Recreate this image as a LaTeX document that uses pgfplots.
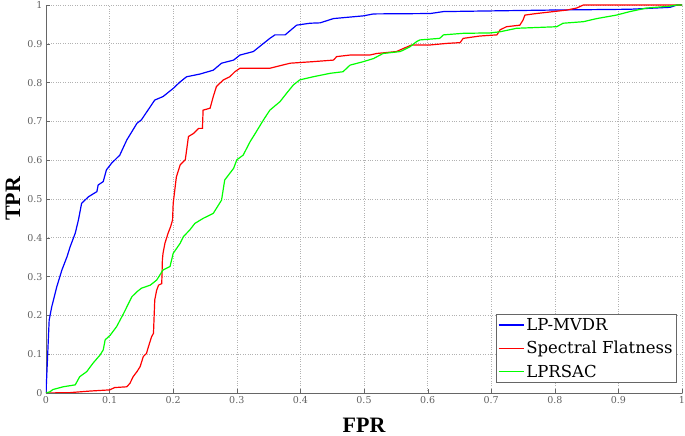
\documentclass[border=0pt]{standalone}
\usepackage{pgfplots}
\pgfplotsset{compat=1.18}
\usepackage{fontspec}
\setmainfont{DejaVu Serif}
\newfontfamily\labfont{Liberation Serif}
\begin{document}
\begin{tikzpicture}
\begin{axis}[
  name=ax,
  scale only axis, width=636pt, height=388pt,
  xmin=0, xmax=1, ymin=0, ymax=1,
  xtick={0,0.1,...,1}, ytick={0,0.1,...,1},
  xticklabels={0,0.1,0.2,0.3,0.4,0.5,0.6,0.7,0.8,0.9,1},
  yticklabels={0,0.1,0.2,0.3,0.4,0.5,0.6,0.7,0.8,0.9,1},
  axis x line*=bottom, axis y line*=left,
  axis line style={gray!80!black, line width=0.8pt, -},
  tick align=inside, major tick length=4pt,
  tick style={gray!80!black},
  tick label style={font=\fontsize{9.5}{11}\selectfont, text=gray!75!black},
  grid=major, major grid style={gray!60, dotted, line width=0.6pt},
  xlabel={\labfont\bfseries\fontsize{22}{24}\selectfont FPR},
  ylabel={\labfont\bfseries\fontsize{22}{24}\selectfont TPR},
  xlabel style={at={(0.5,0)}, anchor=center, yshift=-32pt},
  ylabel style={at={(0,0.5)}, anchor=center, yshift=33pt},
  legend style={at={(1,0)}, anchor=south east, xshift=-5pt, yshift=10pt,
    font=\fontsize{16.5}{19}\selectfont, draw=gray!80!black, line width=0.8pt,
    inner sep=2pt, row sep=5.5pt},
  legend cell align=left,
  legend image code/.code={\draw[#1, line width=1.3pt] plot coordinates {(0pt,0pt) (12pt,0pt) (25pt,0pt)};},
]
\addplot[blue, line width=1.2pt] coordinates {
(0,0) (0.005,0.188) (0.009,0.222) (0.017,0.274) (0.025,0.317) (0.033,0.351)
(0.038,0.377) (0.046,0.412) (0.051,0.446) (0.056,0.489) (0.067,0.506)
(0.080,0.519) (0.082,0.536) (0.090,0.545) (0.095,0.575) (0.103,0.592)
(0.116,0.613) (0.127,0.652) (0.143,0.695) (0.150,0.704) (0.171,0.755)
(0.184,0.764) (0.200,0.785) (0.211,0.802) (0.221,0.815) (0.242,0.822)
(0.263,0.832) (0.276,0.850) (0.295,0.858) (0.305,0.871) (0.326,0.880)
(0.342,0.901) (0.352,0.914) (0.360,0.923) (0.376,0.923) (0.394,0.948)
(0.415,0.953) (0.431,0.954) (0.452,0.965) (0.499,0.972) (0.515,0.977)
(0.604,0.978) (0.625,0.983) (0.709,0.985) (0.798,0.987) (0.918,0.989)
(0.981,0.994) (0.992,1.0) (1,1)
};
\addlegendentry{LP-MVDR}
\addplot[red, line width=1.2pt] coordinates {
(0,0) (0.038,0.001) (0.069,0.005) (0.100,0.008) (0.108,0.014) (0.127,0.016)
(0.132,0.025) (0.137,0.042) (0.143,0.055) (0.148,0.068) (0.153,0.094)
(0.158,0.102) (0.161,0.119) (0.166,0.145) (0.169,0.154) (0.170,0.197)
(0.171,0.240) (0.174,0.265) (0.177,0.278) (0.182,0.282) (0.183,0.343)
(0.184,0.360) (0.187,0.386) (0.192,0.412) (0.196,0.429) (0.199,0.446)
(0.200,0.489) (0.205,0.557) (0.211,0.588) (0.219,0.601) (0.224,0.661)
(0.232,0.669) (0.240,0.682) (0.246,0.682) (0.247,0.729) (0.258,0.734)
(0.263,0.764) (0.268,0.790) (0.279,0.807) (0.289,0.815) (0.297,0.828)
(0.305,0.837) (0.352,0.837) (0.384,0.850) (0.420,0.854) (0.452,0.858)
(0.457,0.867) (0.478,0.871) (0.509,0.871) (0.520,0.875) (0.551,0.880)
(0.562,0.888) (0.575,0.897) (0.604,0.897) (0.630,0.901) (0.651,0.903)
(0.656,0.914) (0.682,0.920) (0.709,0.923) (0.714,0.936) (0.724,0.944)
(0.745,0.948) (0.750,0.961) (0.753,0.974) (0.771,0.978) (0.798,0.983)
(0.819,0.987) (0.834,0.992) (0.845,1.0) (1,1)
};
\addlegendentry{Spectral Flatness}
\addplot[green, line width=1.2pt] coordinates {
(0,0) (0.006,0.003) (0.011,0.009) (0.027,0.016) (0.046,0.021) (0.053,0.042)
(0.064,0.055) (0.074,0.077) (0.085,0.098) (0.090,0.111) (0.093,0.137)
(0.101,0.149) (0.111,0.171) (0.122,0.205) (0.135,0.248) (0.143,0.261)
(0.150,0.270) (0.164,0.278) (0.174,0.291) (0.184,0.317) (0.195,0.326)
(0.200,0.360) (0.211,0.386) (0.216,0.403) (0.226,0.420) (0.234,0.437)
(0.247,0.450) (0.263,0.463) (0.276,0.497) (0.281,0.549) (0.295,0.579)
(0.300,0.601) (0.310,0.613) (0.321,0.648) (0.329,0.669) (0.342,0.704)
(0.352,0.729) (0.368,0.751) (0.378,0.772) (0.389,0.794) (0.399,0.807)
(0.420,0.815) (0.447,0.824) (0.467,0.828) (0.478,0.845) (0.499,0.854)
(0.515,0.862) (0.530,0.875) (0.557,0.880) (0.572,0.892) (0.583,0.906)
(0.588,0.910) (0.619,0.914) (0.625,0.923) (0.656,0.927) (0.698,0.928)
(0.714,0.931) (0.740,0.940) (0.803,0.944) (0.813,0.953) (0.845,0.957)
(0.866,0.965) (0.897,0.974) (0.918,0.983) (0.944,0.992) (0.981,0.997)
(0.992,1.0) (1,1)
};
\addlegendentry{LPRSAC}
\end{axis}
\pgfresetboundingbox
\path ([shift={(-46pt,-43pt)}]ax.south west) rectangle ([shift={(3pt,5pt)}]ax.north east);
\end{tikzpicture}
\end{document}
